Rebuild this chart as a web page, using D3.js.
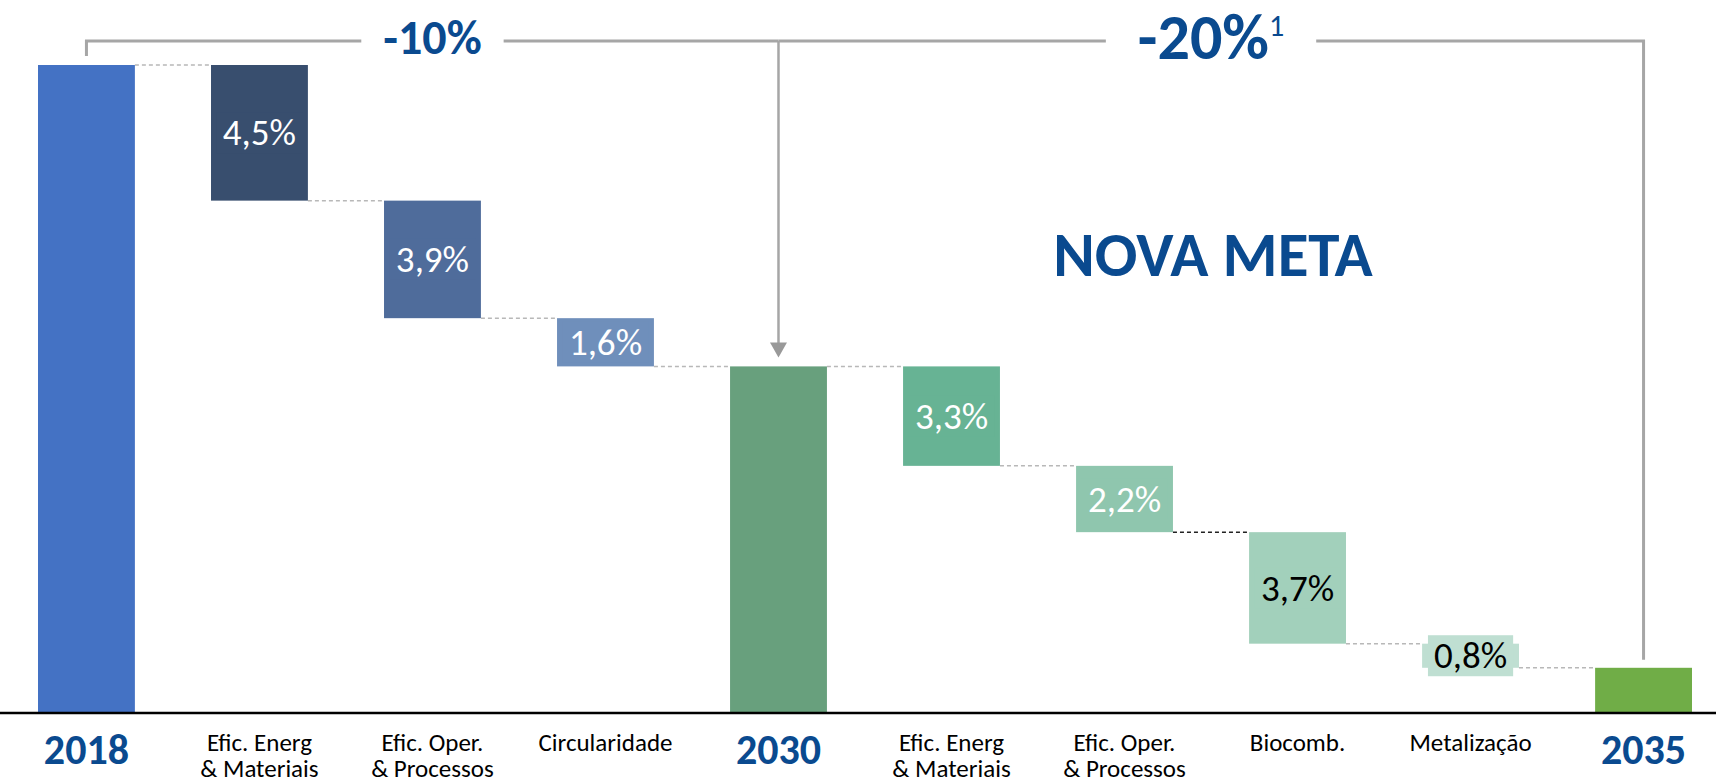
<!DOCTYPE html>
<html>
<head>
<meta charset="utf-8">
<script src="https://cdn.jsdelivr.net/npm/d3@7"></script>
<style>
  body { margin: 0; background: #fff; }
  text { font-family: Carlito, Calibri, "Open Sans", sans-serif; }
</style>
</head>
<body>
<div id="chart"></div>
<script>

// categories along the bottom
var categories = ["2018", "Efic. Energ\n& Materiais", "Efic. Oper.\n& Processos", "Circularidade", "2030",
                  "Efic. Energ\n& Materiais", "Efic. Oper.\n& Processos", "Biocomb.", "Metalização", "2035"];

// "total" bars are absolute index values, the others are reductions in percentage points
var kinds  = ["total", "step", "step", "step", "total", "step", "step", "step", "step", "total"];
var values = [100, -4.5, -3.9, -1.6, 90, -3.3, -2.2, -3.7, -0.8, 80];

var barColors   = ["#4472c4", "#384e6e", "#4f6c9b", "#6f8fbb", "#68a07d", "#67b394", "#8fc6ae", "#a2d0bb", "#bfdfd2", "#70ad47"];
var labelColors = [null, "#fff", "#fff", "#fff", null, "#fff", "#fff", "#000", "#000", null];

var axisMin = 78.5;   // value axis is cut, as in the source slide

var brackets = [
    {from: 0, to: 4, text: "-10%", sup: ""},
    {from: 4, to: 9, text: "-20%", sup: "1"}
];

var blue = "#0a4a8f", grey = "#a6a6a6";

var width = 1716, height = 783;

var svg = d3.select("#chart").append("svg")
    .attr("width", width)
    .attr("height", height);

var x = d3.scaleBand()
    .domain(d3.range(categories.length))
    .range([38, 1692])
    .paddingInner(0.44);

var y = d3.scaleLinear()
    .domain([axisMin, 100])
    .range([713, 65]);

// running levels for the waterfall
var bars = [];
var level = 0;
values.forEach(function(v, i){
    var b = {i: i, kind: kinds[i], value: v};
    if (kinds[i] == "total") {
	b.top = v; b.bottom = axisMin;
	level = v;
    } else {
	b.top = level; b.bottom = level + v;
	level = level + v;
    }
    b.level = level;
    bars.push(b);
});

var fmt = function(v){ return d3.format(".1f")(Math.abs(v)).replace(".", ",") + "%"; };

// dashed connectors between bars
var connectors = svg.append("g").attr("class", "connectors")
    .selectAll("line")
    .data(bars.slice(0, -1))
    .enter().append("line")
    .attr("x1", function(d){ return x(d.i) + x.bandwidth(); })
    .attr("x2", function(d){ return x(d.i + 1); })
    .attr("y1", function(d){ return y(d.level); })
    .attr("y2", function(d){ return y(d.level); })
    .attr("stroke", function(d){ return d.i == 6 ? "#222" : "#b8b8b8"; })
    .attr("stroke-width", 1.5)
    .attr("stroke-dasharray", "4,3");

svg.append("g").attr("class", "bars")
    .selectAll("rect")
    .data(bars)
    .enter().append("rect")
    .attr("x", function(d){ return x(d.i); })
    .attr("width", x.bandwidth())
    .attr("y", function(d){ return y(d.top); })
    .attr("height", function(d){ return y(d.bottom) - y(d.top); })
    .attr("fill", function(d){ return barColors[d.i]; });

// value labels, with a backing box in the bar colour
var labels = svg.append("g").attr("class", "labels")
    .selectAll("g")
    .data(bars.filter(function(d){ return d.kind == "step"; }))
    .enter().append("g")
    .attr("transform", function(d){
	return "translate(" + (x(d.i) + x.bandwidth() / 2) + "," + ((y(d.top) + y(d.bottom)) / 2) + ")";
    });

labels.append("rect").attr("class", "bg");

labels.append("text")
    .attr("text-anchor", "middle")
    .attr("dy", "0.34em")
    .attr("font-size", 37)
    .attr("fill", function(d){ return labelColors[d.i]; })
    .text(function(d){ return fmt(d.value); });

labels.each(function(d){
    var g = d3.select(this);
    var bb = g.select("text").node().getBBox();
    g.select("rect.bg")
	.attr("x", -bb.width / 2 - 6)
	.attr("width", bb.width + 12)
	.attr("y", -20.5)
	.attr("height", 41)
	.attr("fill", barColors[d.i]);
});

// category axis
var xAxis = d3.axisBottom(x).tickSize(0).tickFormat(function(i){ return categories[i]; });

var axisG = svg.append("g")
    .attr("transform", "translate(0," + y(axisMin) + ")")
    .call(xAxis);

axisG.select(".domain").remove();

axisG.selectAll(".tick text").each(function(i){
    var t = d3.select(this);
    var lines = categories[i].split("\n");
    t.text(null).attr("y", 0).attr("dy", null);
    if (kinds[i] == "total") {
	t.attr("font-size", 42).attr("font-weight", "bold").attr("fill", blue);
	t.append("tspan").attr("x", 0).attr("y", 51).text(lines[0]);
    } else {
	t.attr("font-size", 25).attr("fill", "#000");
	lines.forEach(function(l, k){
	    t.append("tspan").attr("x", 0).attr("y", 38 + k * 26).text(l);
	});
    }
});

svg.append("line")
    .attr("x1", 0).attr("x2", width)
    .attr("y1", y(axisMin)).attr("y2", y(axisMin))
    .attr("stroke", "#000")
    .attr("stroke-width", 2.5);

// brackets on top
var lineY = 41;
var cx = function(i){ return x(i) + x.bandwidth() / 2; };

var bracketG = svg.append("g").attr("class", "brackets");

brackets.forEach(function(b, k){
    var x0 = cx(b.from), x1 = cx(b.to), mid = (x0 + x1) / 2;

    var t = bracketG.append("text")
	.attr("y", k == 0 ? 54 : 59)
	.attr("font-weight", "bold")
	.attr("font-size", k == 0 ? 48 : 64)
	.attr("fill", blue)
	.attr("text-anchor", "middle")
	.attr("x", mid);
    t.append("tspan").text(b.text);
    if (b.sup) t.append("tspan").attr("font-size", 30).attr("font-weight", "normal").attr("dy", -23).text(b.sup);

    var bb = t.node().getBBox();
    var pad = k == 0 ? 22 : 32;
    var gapL = bb.x - pad, gapR = bb.x + bb.width + pad;

    var path = d3.path();
    if (k == 0) {
	path.moveTo(x0, y(bars[b.from].top) - 9);
	path.lineTo(x0, lineY);
    } else {
	path.moveTo(x0, lineY);
    }
    path.lineTo(gapL, lineY);
    path.moveTo(gapR, lineY);
    path.lineTo(x1, lineY);
    if (k == 1) path.lineTo(x1, y(bars[b.to].top) - 8);

    bracketG.append("path")
	.attr("d", path.toString())
	.attr("fill", "none")
	.attr("stroke", grey)
	.attr("stroke-width", 3);
});

// arrow down to 2030
bracketG.append("line")
    .attr("x1", cx(4)).attr("x2", cx(4))
    .attr("y1", lineY).attr("y2", y(bars[4].top) - 12)
    .attr("stroke", grey)
    .attr("stroke-width", 2.5);

bracketG.append("path")
    .attr("d", d3.line()([[cx(4) - 8.5, y(bars[4].top) - 24], [cx(4) + 8.5, y(bars[4].top) - 24], [cx(4), y(bars[4].top) - 9]]) + "Z")
    .attr("fill", "#999");

svg.append("text")
    .attr("x", 1213).attr("y", 276)
    .attr("text-anchor", "middle")
    .attr("font-size", 63)
    .attr("font-weight", "bold")
    .attr("fill", blue)
    .text("NOVA META");

</script>
</body>
</html>
